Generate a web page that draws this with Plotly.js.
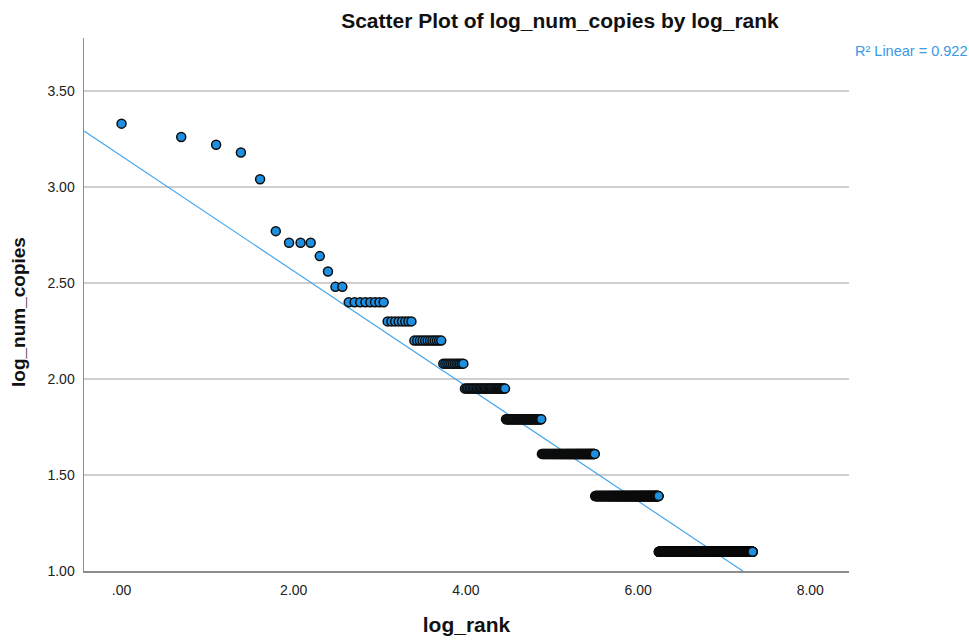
<!DOCTYPE html>
<html>
<head>
<meta charset="utf-8">
<script src="https://cdn.plot.ly/plotly-3.0.1.min.js"></script>
<style>html,body{margin:0;padding:0;background:#fff;}#chart{width:969px;height:641px;}</style>
</head>
<body>
<div id="chart"></div>
<script>
// log_num_copies levels and the last rank that has each level
const logNumCopies = [3.33, 3.26, 3.22, 3.18, 3.04, 2.77, 2.71, 2.64, 2.56, 2.48, 2.40, 2.30, 2.20, 2.08, 1.95, 1.79, 1.61, 1.39, 1.10];
const lastRank     = [1, 2, 3, 4, 5, 6, 9, 10, 11, 13, 21, 29, 41, 53, 86, 131, 244, 512, 1526];
// Linear fit shown in the chart
const fitIntercept = 3.161;
const fitSlope = -0.2995;
const rSquared = "0.922";
const xTickVals = [0, 2, 4, 6, 8];
const xTickText = [".00", "2.00", "4.00", "6.00", "8.00"];
const yTickVals = [1.0, 1.5, 2.0, 2.5, 3.0, 3.5];
const yTickText = ["1.00", "1.50", "2.00", "2.50", "3.00", "3.50"];
const xRange = [-0.436, 8.45];
const yRange = [1.0, 3.776];

// expand: each rank r gets log_rank = ln(r)
const logRank = [], logCopies = [];
let prev = 0;
for (let i = 0; i < lastRank.length; i++) {
  for (let r = prev + 1; r <= lastRank[i]; r++) {
    logRank.push(Math.log(r));
    logCopies.push(logNumCopies[i]);
  }
  prev = lastRank[i];
}

const fitX = [xRange[0], xRange[1]];
const fitY = fitX.map(x => fitIntercept + fitSlope * x);

const font = "Liberation Sans, Arial, sans-serif";
const data = [
  {
    x: fitX, y: fitY, type: "scatter", mode: "lines",
    line: {color: "#45a6ec", width: 1.2}, hoverinfo: "skip", showlegend: false
  },
  {
    x: logRank, y: logCopies, type: "scatter", mode: "markers",
    marker: {size: 9, color: "#1f8fe2", line: {color: "#0d0d0d", width: 1.5}},
    showlegend: false
  }
];

const layout = {
  width: 969, height: 641,
  margin: {l: 84, r: 120, t: 38, b: 70},
  paper_bgcolor: "#ffffff", plot_bgcolor: "#ffffff",
  font: {family: font, color: "#222", size: 14},
  title: {
    text: "<b>Scatter Plot of log_num_copies by log_rank</b>",
    font: {family: font, size: 21, color: "#111"},
    xref: "container", x: 560/969, xanchor: "center",
    yref: "container", y: 1 - 21/641, yanchor: "middle"
  },
  xaxis: {
    range: xRange, tickvals: xTickVals, ticktext: xTickText,
    showgrid: false, zeroline: false, showline: true, linecolor: "#8c8c8c", linewidth: 1.5,
    ticks: "", ticklabelstandoff: 6,
    tickfont: {family: font, size: 14, color: "#222"},
    title: {text: "<b>log_rank</b>", font: {family: font, size: 21, color: "#111"}, standoff: 20}
  },
  yaxis: {
    range: yRange, tickvals: yTickVals, ticktext: yTickText,
    showgrid: true, gridcolor: "#cfcfcf", gridwidth: 1.5,
    zeroline: false, showline: true, linecolor: "#8c8c8c", linewidth: 1.5,
    ticks: "", ticklabelstandoff: 5,
    tickfont: {family: font, size: 14, color: "#222"}
  },
  annotations: [
    {
      text: "R\u00b2 Linear = " + rSquared,
      xref: "paper", yref: "paper", x: 1.0, y: 1 - 13/533,
      xshift: 4, xanchor: "left", yanchor: "middle", showarrow: false,
      font: {family: font, size: 14.5, color: "#3a9ae4"}
    },
    {
      text: "<b>log_num_copies</b>", textangle: -90,
      xref: "paper", yref: "paper", x: (18.5 - 84) / 765, y: (571 - 312.5) / 533,
      xanchor: "center", yanchor: "middle", showarrow: false,
      font: {family: font, size: 19, color: "#111"}
    }
  ]
};

Plotly.newPlot("chart", data, layout, {displayModeBar: false, staticPlot: true});
</script>
</body>
</html>
